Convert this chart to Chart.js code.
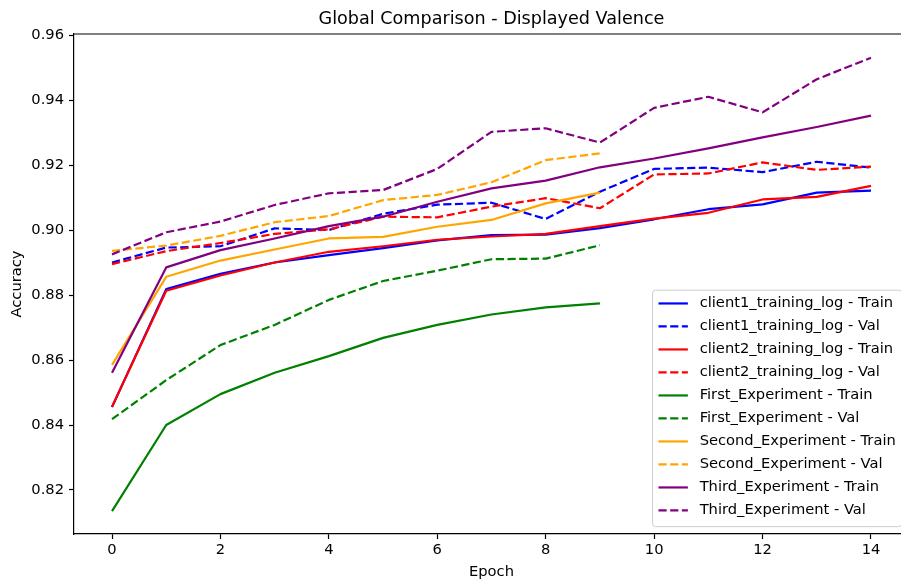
<!DOCTYPE html>
<html>
<head>
<meta charset="utf-8">
<script src="https://cdn.jsdelivr.net/npm/chart.js@4.4.1/dist/chart.umd.min.js"></script>
<style>
html, body { margin: 0; padding: 0; overflow: hidden; background: #fff; width: 901px; height: 585px; }
#c { position: absolute; left: 0; top: 0; }
</style>
</head>
<body>
<canvas id="c" width="920" height="585"></canvas>
<script>
// ---- data ----
const epochsLong = [0, 1, 2, 3, 4, 5, 6, 7, 8, 9, 10, 11, 12, 13, 14];
const epochsShort = [0, 1, 2, 3, 4, 5, 6, 7, 8, 9];

const client1Train = [0.8455, 0.8818, 0.8865, 0.8900, 0.8923, 0.8944, 0.8968, 0.8984, 0.8986, 0.9006, 0.9033, 0.9064, 0.9079, 0.9115, 0.9121];
const client1Val   = [0.8900, 0.8946, 0.8950, 0.9005, 0.9000, 0.9050, 0.9078, 0.9084, 0.9034, 0.9118, 0.9188, 0.9192, 0.9178, 0.9210, 0.9192];
const client2Train = [0.8456, 0.8813, 0.8860, 0.8900, 0.8933, 0.8950, 0.8970, 0.8980, 0.8988, 0.9012, 0.9035, 0.9053, 0.9094, 0.9102, 0.9136];
const client2Val   = [0.8895, 0.8935, 0.8960, 0.8988, 0.9002, 0.9041, 0.9039, 0.9072, 0.9098, 0.9067, 0.9171, 0.9174, 0.9208, 0.9185, 0.9195];
const firstTrain   = [0.8135, 0.8400, 0.8495, 0.8561, 0.8612, 0.8668, 0.8708, 0.8740, 0.8762, 0.8774];
const firstVal     = [0.8418, 0.8538, 0.8646, 0.8708, 0.8785, 0.8843, 0.8875, 0.8910, 0.8912, 0.8953];
const secondTrain  = [0.8585, 0.8856, 0.8906, 0.8940, 0.8974, 0.8979, 0.9010, 0.9031, 0.9082, 0.9115];
const secondVal    = [0.8936, 0.8952, 0.8982, 0.9024, 0.9043, 0.9092, 0.9108, 0.9147, 0.9215, 0.9236];
const thirdTrain   = [0.8561, 0.8885, 0.8938, 0.8974, 0.9012, 0.9041, 0.9087, 0.9128, 0.9152, 0.9193, 0.9220, 0.9251, 0.9285, 0.9317, 0.9352];
const thirdVal     = [0.8925, 0.8993, 0.9026, 0.9077, 0.9113, 0.9123, 0.9188, 0.9302, 0.9313, 0.9269, 0.9376, 0.9410, 0.9362, 0.9464, 0.9530];

const seriesLabels = [
  'client1_training_log - Train', 'client1_training_log - Val',
  'client2_training_log - Train', 'client2_training_log - Val',
  'First_Experiment - Train', 'First_Experiment - Val',
  'Second_Experiment - Train', 'Second_Experiment - Val',
  'Third_Experiment - Train', 'Third_Experiment - Val'
];

const xTickValues = [0, 2, 4, 6, 8, 10, 12, 14];
const xTickLabels = ['0', '2', '4', '6', '8', '10', '12', '14'];
const yTickValues = [0.82, 0.84, 0.86, 0.88, 0.90, 0.92, 0.94, 0.96];
const yTickLabels = ['0.82', '0.84', '0.86', '0.88', '0.90', '0.92', '0.94', '0.96'];

const titleText = 'Global Comparison - Displayed Valence';
const xTitle = 'Epoch';
const yTitle = 'Accuracy';

// ---- styling ----
const FONT = 'DejaVu Sans';
const FS = 14.7;
const LW = 2.2;
const DASH = [8.2, 3.5];
const colors = ['#0000ff', '#0000ff', '#ff0000', '#ff0000', '#008000', '#008000', '#ffa500', '#ffa500', '#800080', '#800080'];

const seriesValues = [client1Train, client1Val, client2Train, client2Val, firstTrain, firstVal, secondTrain, secondVal, thirdTrain, thirdVal];
const seriesEpochs = [epochsLong, epochsLong, epochsLong, epochsLong, epochsShort, epochsShort, epochsShort, epochsShort, epochsLong, epochsLong];

const datasets = seriesValues.map((vals, i) => ({
  label: seriesLabels[i],
  data: vals.map((v, j) => ({ x: seriesEpochs[i][j], y: v })),
  borderColor: colors[i],
  backgroundColor: colors[i],
  borderWidth: LW,
  borderDash: i % 2 === 1 ? DASH : [],
  borderJoinStyle: 'round',
  pointRadius: 0,
  pointHoverRadius: 0,
  tension: 0,
  fill: false,
  order: -i
}));

const framePlugin = {
  id: 'frame',
  afterDraw(chart) {
    const { ctx, chartArea: a } = chart;
    ctx.save();
    ctx.strokeStyle = '#000';
    ctx.lineWidth = 1.2;
    ctx.beginPath();
    ctx.moveTo(a.left, a.top);
    ctx.lineTo(a.right, a.top);
    ctx.lineTo(a.right, a.bottom);
    ctx.stroke();
    ctx.restore();
  }
};

const boxLegendPlugin = {
  id: 'boxLegend',
  afterDatasetsDraw(chart) {
    const { ctx, chartArea: a } = chart;
    const pad = 0.5 * FS;       // border-axes pad
    const bpad = 0.4 * FS;      // border pad
    const hlen = 2.0 * FS;      // handle length
    const htpad = 0.8 * FS;     // handle-text pad
    const rowH = 23.0;
    ctx.save();
    ctx.font = FS + 'px "' + FONT + '"';
    let maxW = 0;
    chart.data.datasets.forEach(d => { maxW = Math.max(maxW, ctx.measureText(d.label).width); });
    const boxW = bpad + hlen + htpad + maxW + bpad;
    const boxH = 236.5;
    const right = a.right - pad;
    const bottom = a.bottom - pad;
    const left = right - boxW;
    const top = bottom - boxH;
    const r = 3;
    ctx.beginPath();
    ctx.moveTo(left + r, top);
    ctx.lineTo(right - r, top);
    ctx.quadraticCurveTo(right, top, right, top + r);
    ctx.lineTo(right, bottom - r);
    ctx.quadraticCurveTo(right, bottom, right - r, bottom);
    ctx.lineTo(left + r, bottom);
    ctx.quadraticCurveTo(left, bottom, left, bottom - r);
    ctx.lineTo(left, top + r);
    ctx.quadraticCurveTo(left, top, left + r, top);
    ctx.closePath();
    ctx.fillStyle = 'rgba(255,255,255,0.8)';
    ctx.fill();
    ctx.strokeStyle = '#cccccc';
    ctx.lineWidth = 1;
    ctx.stroke();
    chart.data.datasets.forEach((d, i) => {
      const cy = top + 13.3 + i * rowH;
      const hx = left + bpad;
      ctx.beginPath();
      ctx.setLineDash(d.borderDash || []);
      ctx.strokeStyle = d.borderColor;
      ctx.lineWidth = d.borderWidth;
      ctx.moveTo(hx, cy);
      ctx.lineTo(hx + hlen, cy);
      ctx.stroke();
      ctx.setLineDash([]);
      ctx.fillStyle = '#000';
      ctx.textAlign = 'left';
      ctx.textBaseline = 'middle';
      ctx.fillText(d.label, hx + hlen + htpad, cy);
    });
    ctx.restore();
  }
};

new Chart(document.getElementById('c'), {
  type: 'line',
  data: { datasets },
  options: {
    responsive: false,
    animation: false,
    devicePixelRatio: 1,
    events: [],
    layout: { padding: { left: 0, right: 11, top: 0, bottom: 0 } },
    plugins: {
      legend: { display: false },
      tooltip: { enabled: false },
      title: {
        display: true,
        fullSize: false,
        text: titleText,
        color: '#000',
        font: { family: FONT, size: 17.6, weight: 'normal' },
        padding: { top: 9.1, bottom: 3.8 }
      }
    },
    scales: {
      x: {
        type: 'linear',
        min: -0.701,
        max: 14.701,
        afterBuildTicks(scale) { scale.ticks = xTickValues.map(v => ({ value: v })); },
        afterFit(scale) { scale.height = 51; },
        ticks: {
          color: '#000',
          font: { family: FONT, size: FS },
          padding: 2.2,
          maxRotation: 0,
          autoSkip: false,
          callback: (v, i) => xTickLabels[i]
        },
        grid: { drawOnChartArea: false, drawTicks: true, tickLength: 5, tickWidth: 1.2, tickColor: '#000' },
        border: { display: true, color: '#000', width: 1.2 },
        title: { display: true, text: xTitle, color: '#000', font: { family: FONT, size: FS }, padding: { top: 0, bottom: 4.2 } }
      },
      y: {
        type: 'linear',
        min: 0.80646,
        max: 0.96031,
        afterBuildTicks(scale) { scale.ticks = yTickValues.map(v => ({ value: v })); },
        afterFit(scale) { scale.width = 74; },
        ticks: {
          color: '#000',
          font: { family: FONT, size: FS },
          padding: 5,
          autoSkip: false,
          callback: (v, i) => yTickLabels[i]
        },
        grid: { drawOnChartArea: false, drawTicks: true, tickLength: 5, tickWidth: 1.2, tickColor: '#000' },
        border: { display: true, color: '#000', width: 1.2 },
        title: { display: true, text: yTitle, color: '#000', font: { family: FONT, size: FS }, padding: { top: 8.8, bottom: 0 } }
      }
    }
  },
  plugins: [framePlugin, boxLegendPlugin]
});
</script>
</body>
</html>
